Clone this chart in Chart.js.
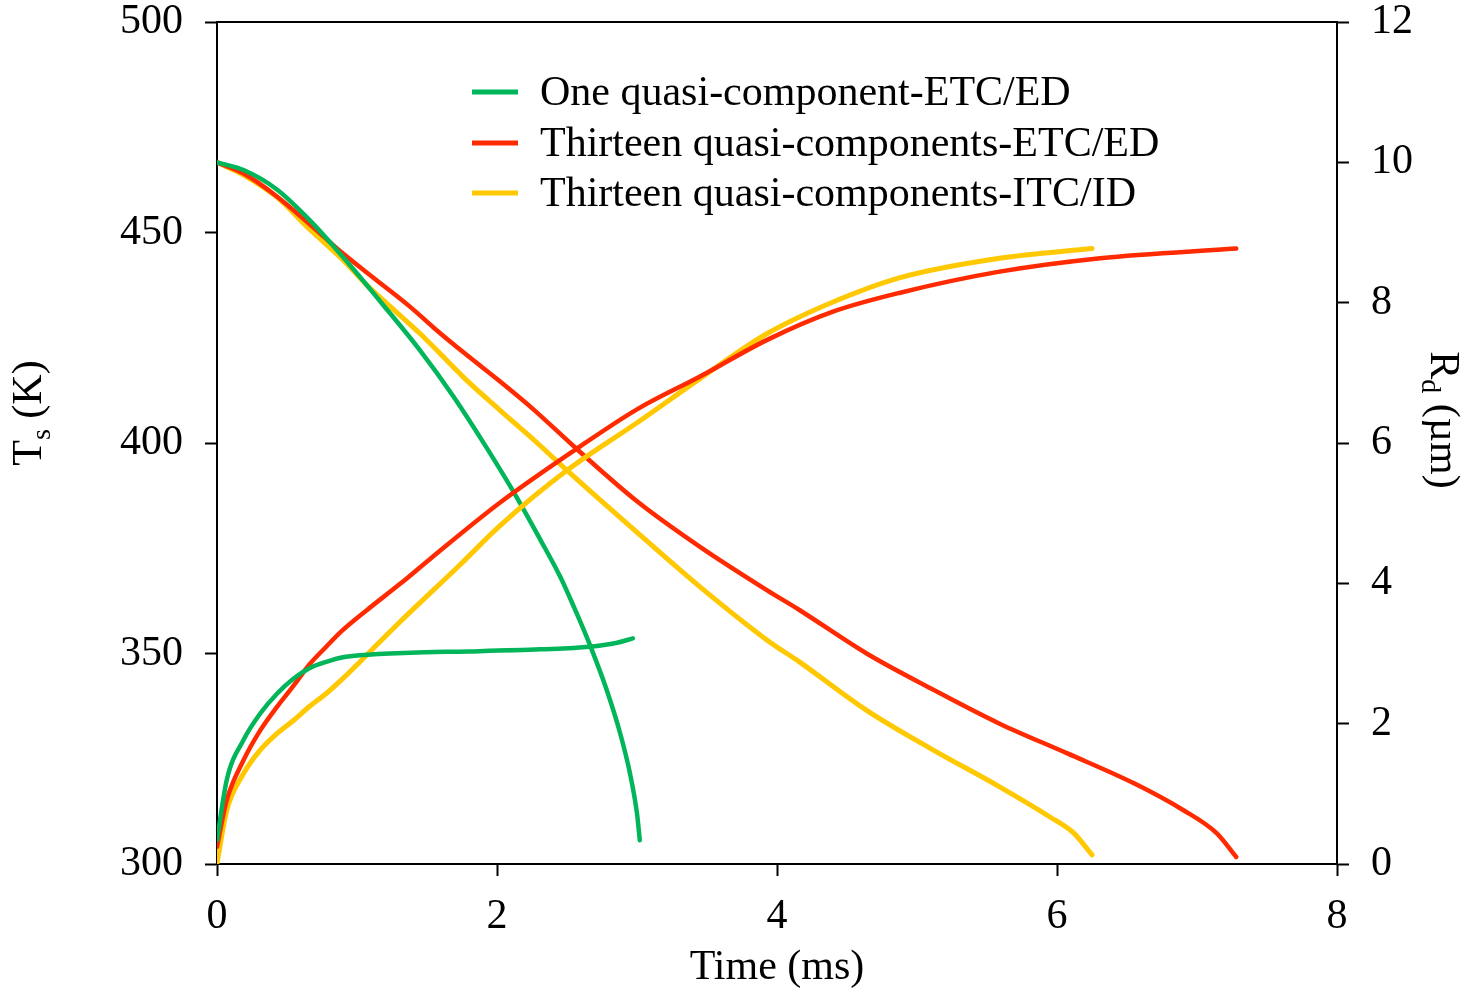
<!DOCTYPE html>
<html>
<head>
<meta charset="utf-8">
<script src="https://cdn.jsdelivr.net/npm/chart.js@4.4.0/dist/chart.umd.min.js"></script>
<style>
    html, body { margin: 0; padding: 0; background: #fff; }
    #chart-container { width: 1476px; height: 991px; }
</style>
</head>
<body>
<div id="chart-container"><canvas id="ts-rd-chart"></canvas></div>
<script>
'use strict';

// legend labels and colours
const seriesLabels = ['One quasi-component-ETC/ED', 'Thirteen quasi-components-ETC/ED', 'Thirteen quasi-components-ITC/ID'];
const seriesColors = ['#00b55a', '#ff2a00', '#ffc800'];

// surface temperature Ts (K), left axis
const greenTsTime = [0, 0.07, 0.19, 0.31, 0.43, 0.55, 0.66, 0.78, 0.9, 1.02, 1.38, 1.8, 2.31, 2.66, 2.85, 2.97];
const greenTs = [305.7, 320, 329.5, 335.8, 340.5, 344.1, 346.5, 348.0, 349.1, 349.6, 350.2, 350.5, 351.0, 351.6, 352.5, 353.6];
const redTsTime = [0, 0.07, 0.19, 0.31, 0.43, 0.55, 0.66, 0.78, 0.89, 1.07, 1.31, 1.52, 2.02, 2.55, 3.0, 3.45, 3.93, 4.4, 4.88, 5.59, 6.31, 7.28];
const redTs = [304.1, 315.2, 324.7, 331.8, 337.4, 342.5, 347.4, 351.6, 355.3, 360.3, 366.6, 372.4, 385.8, 398.2, 408, 415.8, 424.5, 431.2, 435.7, 440.7, 443.9, 446.2];
const yellowTsTime = [0, 0.07, 0.19, 0.31, 0.43, 0.55, 0.66, 0.78, 0.9, 1.02, 1.14, 1.31, 1.74, 2.02, 2.5, 3.0, 3.45, 3.93, 4.4, 4.88, 5.59, 6.25];
const yellowTs = [300.2, 312.8, 321.5, 327.1, 331.0, 334.2, 337.4, 340.5, 344.1, 348.0, 352, 357.6, 371.2, 380.3, 393.5, 404.8, 415.3, 426, 433.5, 439.3, 443.9, 446.2];

// droplet radius Rd (um), right axis
const greenRdTime = [0, 0.19, 0.43, 0.66, 0.9, 1.19, 1.45, 1.69, 1.93, 2.14, 2.31, 2.45, 2.55, 2.66, 2.78, 2.88, 2.95, 3.0, 3.02];
const greenRd = [10, 9.89, 9.61, 9.18, 8.65, 7.96, 7.32, 6.66, 5.92, 5.23, 4.62, 4.1, 3.66, 3.14, 2.5, 1.86, 1.29, 0.72, 0.34];
const redRdTime = [0, 0.19, 0.43, 0.66, 0.9, 1.14, 1.38, 1.55, 1.78, 2.02, 2.26, 2.55, 3.0, 3.45, 3.93, 4.16, 4.64, 5.12, 5.59, 6.07, 6.55, 6.9, 7.14, 7.28];
const redRd = [10, 9.84, 9.51, 9.12, 8.7, 8.32, 7.94, 7.64, 7.26, 6.88, 6.48, 5.95, 5.17, 4.52, 3.9, 3.62, 3.0, 2.48, 2.0, 1.58, 1.15, 0.77, 0.44, 0.1];
const yellowRdTime = [0, 0.19, 0.43, 0.66, 0.9, 1.07, 1.24, 1.45, 1.78, 2.02, 2.26, 2.5, 2.97, 3.45, 3.93, 4.16, 4.64, 5.12, 5.59, 5.95, 6.12, 6.25];
const yellowRd = [10, 9.82, 9.5, 9.05, 8.61, 8.25, 7.94, 7.56, 6.9, 6.47, 6.05, 5.61, 4.78, 3.95, 3.19, 2.88, 2.19, 1.62, 1.1, 0.67, 0.44, 0.13];

const serif = '"Liberation Serif", "Times New Roman", serif';

function toPoints(xs, ys) {
    return xs.map((x, i) => ({x: x, y: ys[i]}));
}

function makeSet(idx, xs, ys, axis) {
    return {
        label: seriesLabels[idx],
        data: toPoints(xs, ys),
        yAxisID: axis,
        borderColor: seriesColors[idx],
        backgroundColor: seriesColors[idx],
        borderWidth: idx === 2 ? 5 : 4.5,
        borderCapStyle: 'round',
        borderJoinStyle: 'round',
        showLine: true,
        pointRadius: 0,
        cubicInterpolationMode: 'monotone',
    };
}

// draws text with a subscript, rotated around (x, y)
function drawSubText(ctx, x, y, angle, main, sub, rest) {
    ctx.save();
    ctx.translate(x, y);
    ctx.rotate(angle);
    ctx.fillStyle = '#000';
    ctx.textBaseline = 'alphabetic';
    ctx.textAlign = 'left';
    ctx.font = '42px ' + serif;
    let w1 = ctx.measureText(main).width;
    let w3 = ctx.measureText(rest).width;
    ctx.font = '28px ' + serif;
    let w2 = ctx.measureText(sub).width;
    let start = -(w1 + w2 + w3) / 2;
    let base = 14;
    ctx.font = '42px ' + serif;
    ctx.fillText(main, start, base);
    ctx.font = '28px ' + serif;
    ctx.fillText(sub, start + w1, base + 9);
    ctx.font = '42px ' + serif;
    ctx.fillText(rest, start + w1 + w2, base);
    ctx.restore();
}

const decorPlugin = {
    id: 'decor',
    afterDraw(chart) {
        const ctx = chart.ctx;
        const area = chart.chartArea;
        // top frame line
        ctx.save();
        ctx.strokeStyle = '#000';
        ctx.lineWidth = 2;
        ctx.beginPath();
        ctx.moveTo(area.left, area.top);
        ctx.lineTo(area.right, area.top);
        ctx.stroke();

        // legend
        ctx.font = '42px ' + serif;
        ctx.textBaseline = 'middle';
        ctx.textAlign = 'left';
        const rows = [92, 143, 193];
        rows.forEach((y, i) => {
            ctx.strokeStyle = seriesColors[i];
            ctx.lineWidth = 5;
            ctx.beginPath();
            ctx.moveTo(472, y);
            ctx.lineTo(518, y);
            ctx.stroke();
            ctx.fillStyle = '#000';
            ctx.fillText(seriesLabels[i], 540, y + 2);
        });

        // x title
        ctx.textAlign = 'center';
        ctx.fillText('Time (ms)', (area.left + area.right) / 2, 968);
        ctx.restore();

        drawSubText(ctx, 27, 413, -Math.PI / 2, 'T', 's', ' (K)');
        drawSubText(ctx, 1445, 420, Math.PI / 2, 'R', 'd', ' (\u00b5m)');
    },
};

const tickFont = {family: serif, size: 42};

function fixY(width) {
    return function (scale) {
        scale.width = width;
        scale.paddingTop = 0;
        scale.paddingBottom = 0;
    };
}

let ctx = document.getElementById('ts-rd-chart').getContext('2d');
window.tsRdChart = new Chart(ctx, {
    type: 'scatter',
    data: {
        datasets: [
            makeSet(0, greenTsTime, greenTs, 'yT'),
            makeSet(1, redTsTime, redTs, 'yT'),
            makeSet(2, yellowTsTime, yellowTs, 'yT'),
            makeSet(0, greenRdTime, greenRd, 'yR'),
            makeSet(1, redRdTime, redRd, 'yR'),
            makeSet(2, yellowRdTime, yellowRd, 'yR'),
        ],
    },
    options: {
        responsive: true,
        maintainAspectRatio: false,
        animation: false,
        layout: {padding: {top: 22, left: 0, right: 0, bottom: 0}},
        plugins: {
            legend: {display: false},
            tooltip: {enabled: false},
        },
        scales: {
            x: {
                type: 'linear',
                min: 0,
                max: 8,
                ticks: {stepSize: 2, font: tickFont, color: '#000', padding: 16, maxRotation: 0},
                grid: {drawOnChartArea: false, tickLength: 12, tickColor: '#000', tickWidth: 2},
                border: {color: '#000', width: 2},
                afterFit: function (scale) {
                    scale.height = 127;
                    scale.paddingLeft = 0;
                    scale.paddingRight = 0;
                },
            },
            yT: {
                position: 'left',
                min: 300,
                max: 500,
                ticks: {stepSize: 50, font: tickFont, color: '#000', padding: 22},
                grid: {drawOnChartArea: false, tickLength: 12, tickColor: '#000', tickWidth: 2},
                border: {color: '#000', width: 2},
                afterFit: fixY(217),
            },
            yR: {
                position: 'right',
                min: 0,
                max: 12,
                ticks: {stepSize: 2, font: tickFont, color: '#000', padding: 22},
                grid: {drawOnChartArea: false, tickLength: 12, tickColor: '#000', tickWidth: 2},
                border: {color: '#000', width: 2},
                afterFit: fixY(139),
            },
        },
    },
    plugins: [decorPlugin],
});
</script>
</body>
</html>
